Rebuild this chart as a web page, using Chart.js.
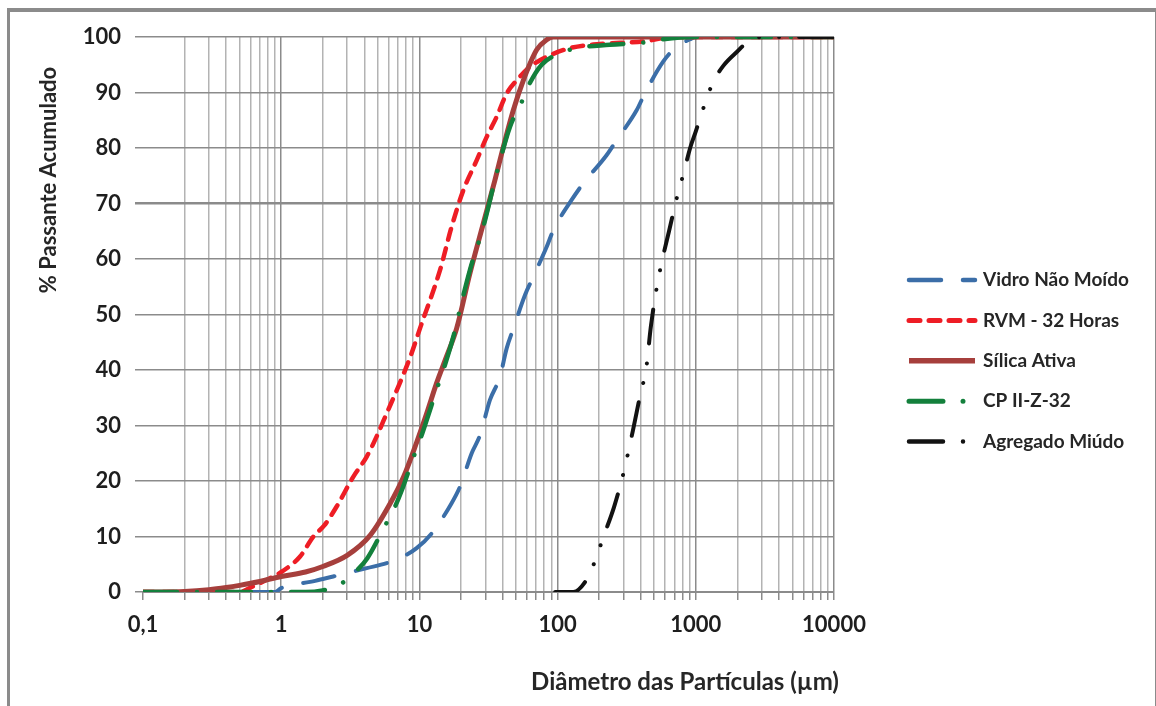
<!DOCTYPE html>
<html>
<head>
<meta charset="utf-8">
<script src="https://cdn.jsdelivr.net/npm/chart.js@4.4.1/dist/chart.umd.min.js"></script>
<style>
  body { margin: 0; background: #fff; }
  #moldura {
    position: absolute; left: 7px; top: 8px; width: 1149px; height: 720px;
    box-sizing: border-box;
    border-top: 4px solid #8b8b8b; border-left: 3px solid #8b8b8b; border-right: 1px solid #8b8b8b;
  }
  #grafico { position: absolute; left: 0; top: 0; }
</style>
</head>
<body>
<div id="moldura"></div>
<canvas id="grafico" width="1156" height="706"></canvas>
<script>
// diâmetro (µm) x % passante acumulado, um par de listas por material
const vidroD = [0.1, 0.9, 1, 1.76, 2.38, 4.16, 5.8, 7.65, 9.55, 12.3, 17.1, 19.7, 23.9, 27.5, 32.4, 38.3, 42.8, 47.9, 58.1, 66.7, 83.4, 93.2, 126, 153, 226, 267, 373, 429, 582, 708, 908, 1000, 10000];
const vidroP = [0, 0, 0.7, 2, 2.8, 4.3, 5.2, 6.4, 7.9, 10.6, 16, 19, 25, 28.3, 34.6, 38.8, 43.9, 47.5, 53.5, 56.8, 62.2, 65.2, 70.6, 73.6, 78.7, 81.4, 86.8, 89.9, 95.6, 98, 99.6, 100, 100];

const rvmD = [0.1, 0.5, 0.6, 0.83, 1.03, 1.37, 1.71, 2.05, 2.52, 3.33, 4.16, 4.9, 5.8, 7.2, 8.6, 10.1, 14.1, 17.1, 20.8, 26, 30.7, 36.2, 42.8, 50.6, 63, 83, 123, 192, 415, 700, 10000];
const rvmP = [0, 0, 0.8, 2.5, 3.8, 6.4, 10, 12, 15.4, 20.8, 24.4, 28, 32.2, 37.6, 42.4, 47.5, 58, 65.8, 72.4, 77.8, 82, 85.6, 89.8, 92.2, 94.6, 96.4, 98, 98.7, 99.2, 100, 100];

const silicaD = [0.1, 0.2, 0.3, 0.4, 0.5, 0.7, 1, 1.5, 2, 3, 4.4, 6.1, 7.7, 9.5, 11.3, 13.3, 15.7, 18.6, 23.2, 29, 35.2, 40.5, 47.8, 56.5, 70.6, 83.4, 93, 10000];
const silicaP = [0, 0.1, 0.4, 0.8, 1.2, 1.9, 2.8, 3.6, 4.6, 6.6, 10.2, 15.8, 20.8, 26.8, 32.2, 37.6, 42.4, 47.5, 57.4, 66.4, 74.2, 80.2, 86.8, 92.2, 97.7, 99.5, 100, 100];

const cpD = [0.1, 1.5, 2, 2.6, 3.3, 4.2, 5.6, 6.5, 7.4, 9, 10.1, 11.3, 13.3, 14.9, 17.6, 18.6, 23.2, 29, 36.2, 45.2, 55, 63, 76.7, 98, 137, 239, 417, 582, 955, 10000];
const cpP = [0, 0, 0.3, 1.2, 3.2, 6.1, 11.8, 14.8, 18.1, 24.1, 27.4, 31, 36.4, 40, 46, 48.5, 58, 65.8, 75.4, 83.8, 88.3, 91.7, 95, 96.8, 98, 98.6, 99, 99.6, 100, 100];

const agregD = [96, 130, 160, 186, 215, 256, 300, 350, 400, 436, 474, 527, 580, 640, 720, 813, 910, 1000, 1180, 1325, 1580, 1980, 2600, 3260, 10000];
const agregP = [0, 0, 2, 5.5, 10, 15.3, 21.5, 29, 36, 40, 48, 55.5, 60.5, 65, 70.5, 75.3, 80, 83, 88.4, 91.7, 94.8, 97.3, 99.8, 100, 100];

const nomes = ['Vidro Não Moído', 'RVM - 32 Horas', 'Sílica Ativa', 'CP II-Z-32', 'Agregado Miúdo'];
const cores = ['#3b6ea8', '#ee1d25', '#a63f3c', '#13803c', '#121212'];

const decadas = [0.1, 1, 10, 100, 1000, 10000];
const rotulosX = ['0,1', '1', '10', '100', '1000', '10000'];

// linhas de grade em 1..9 de cada década
const xTicks = [];
decadas.forEach(d => {
	for (let m = 1; m <= 9; m++) {
		if (d * m <= 10000) xTicks.push(+(d * m).toPrecision(3));
	}
});

function pontos(d, p) {
	return d.map((v, i) => ({ x: v, y: p[i] }));
}

function serie(i, d, p, largura, traco) {
	return {
		label: nomes[i],
		data: pontos(d, p),
		borderColor: cores[i],
		backgroundColor: cores[i],
		borderWidth: largura,
		borderDash: traco,
		borderCapStyle: traco.length ? 'round' : 'butt',
		pointRadius: 0,
		cubicInterpolationMode: 'monotone',
		fill: false,
		order: 4 - i
	};
}

function corGradeX(v) {
	if (v === 0.1) return 'rgba(0,0,0,0)';
	return decadas.indexOf(v) >= 0 ? '#8b8b8b' : '#b3b3b3';
}

// títulos dos eixos e legenda à direita
const textos = {
	id: 'textos',
	afterDraw(chart) {
		const ctx = chart.ctx;
		ctx.save();
		ctx.fillStyle = '#262626';
		ctx.textAlign = 'center';
		ctx.textBaseline = 'middle';
		ctx.font = 'bold 24px Lato';
		ctx.fillText('Diâmetro das Partículas (µm)', 685, 682);
		ctx.save();
		ctx.font = 'bold 22px Lato';
		ctx.translate(49, 180);
		ctx.rotate(-Math.PI / 2);
		ctx.fillText('% Passante Acumulado', 0, 0);
		ctx.restore();

		ctx.font = 'bold 19px Lato';
		ctx.textAlign = 'left';
		chart.data.datasets.forEach((ds, i) => {
			const y = 280 + i * 40.4;
			ctx.save();
			ctx.strokeStyle = ds.borderColor;
			ctx.lineWidth = ds.borderWidth + 0.5;
			ctx.lineCap = ds.borderCapStyle;
			ctx.setLineDash(ds.borderDash);
			ctx.beginPath();
			ctx.moveTo(909, y);
			ctx.lineTo(975, y);
			ctx.stroke();
			ctx.restore();
			ctx.fillText(ds.label, 983, y);
		});
		ctx.restore();
	}
};

function desenha() {
	Chart.defaults.font.family = 'Lato';
	new Chart(document.getElementById('grafico'), {
		type: 'line',
		data: {
			datasets: [
				serie(0, vidroD, vidroP, 4, [32, 22]),
				serie(1, rvmD, rvmP, 4.5, [11, 9]),
				serie(2, silicaD, silicaP, 5, []),
				serie(3, cpD, cpP, 4.5, [34, 20, 0.01, 20]),
				serie(4, agregD, agregP, 4, [34, 20, 0.01, 20, 0.01, 20])
			]
		},
		options: {
			responsive: false,
			animation: false,
			layout: { padding: { top: 37, right: 322, left: 0, bottom: 0 } },
			plugins: { legend: { display: false }, tooltip: { enabled: false } },
			scales: {
				x: {
					type: 'logarithmic',
					min: 0.1,
					max: 10000,
					afterBuildTicks: s => { s.ticks = xTicks.map(v => ({ value: v })); },
					afterFit: s => { s.height = 114; },
					ticks: {
						autoSkip: false,
						maxRotation: 0,
						padding: 12,
						color: '#1e1e1e',
						font: { size: 22, weight: 'bold' },
						callback: v => {
							const k = decadas.indexOf(v);
							return k < 0 ? '' : rotulosX[k];
						}
					},
					grid: {
						color: c => corGradeX(c.tick && c.tick.value),
						lineWidth: 1.5,
						tickLength: 8,
						tickColor: '#8b8b8b',
						tickWidth: 1.5
					},
					border: { display: true, color: '#8b8b8b', width: 2 }
				},
				y: {
					min: 0,
					max: 100,
					afterFit: s => { s.width = 143; },
					ticks: {
						stepSize: 10,
						padding: 14,
						color: '#1e1e1e',
						font: { size: 22, weight: 'bold' }
					},
					grid: {
						color: '#8b8b8b',
						lineWidth: c => (c.tick && c.tick.value === 70 ? 2.5 : 1.5),
						tickLength: 8
					},
					border: { display: false }
				}
			}
		},
		plugins: [textos]
	});
}

document.fonts.load('bold 22px Lato').then(desenha, desenha);
</script>
</body>
</html>
